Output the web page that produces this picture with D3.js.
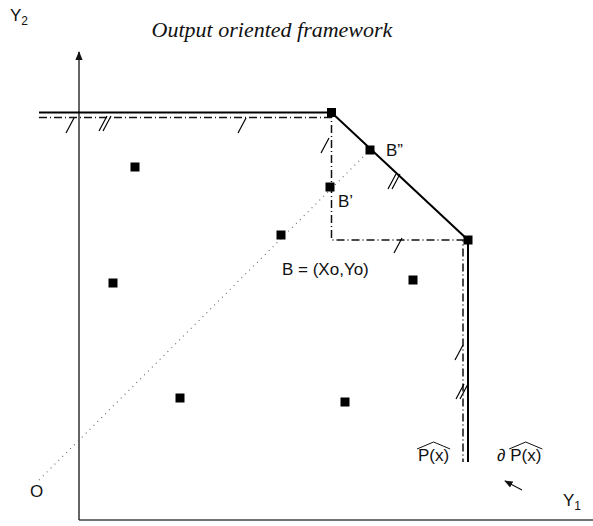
<!DOCTYPE html>
<html>
<head>
<meta charset="utf-8">
<script src="https://cdn.jsdelivr.net/npm/d3@7"></script>
<style>
  html, body { margin: 0; padding: 0; background: #fff; }
  svg { display: block; }
  .lbl { font-family: "Liberation Sans", Arial, sans-serif; font-size: 17px; fill: #111; }
</style>
</head>
<body>
<svg id="chart" width="593" height="526"></svg>
<script>
// Output set P(x): frontier (solid) and free-disposal hull (dash-dot)
const frontierSolid = [[-0.8, 8.15], [5.05, 8.15], [7.78, 5.6], [7.78, 1.16]];
const frontierHull  = [[-0.8, 8.05], [5.05, 8.05], [5.05, 5.6], [7.68, 5.6], [7.68, 1.16]];
const frontierVertices = [[5.05, 8.15], [7.78, 5.6]];

// Observed output vectors
const observations = [[1.12, 7.06], [0.68, 4.74], [2.02, 2.44], [6.68, 4.8], [5.32, 2.36]];
const pointB   = [4.04, 5.7];
const pointB1  = [5.02, 6.66];   // B'
const pointB2  = [5.82, 7.4];    // B''
const rayOrigin = [-0.8, 0.8];   // O

// Hatch marks on the boundary segments: [x, y, count]
const hatches = [[-0.18, 7.9, 1], [0.52, 7.94, 2], [3.26, 7.9, 1], [4.92, 7.5, 1],
                 [6.3, 6.78, 2], [6.38, 5.5, 1], [7.6, 3.36, 1], [7.66, 2.58, 2]];

// Text labels
const labels = [
  { t: "B\u201D", at: [6.14, 7.28] },
  { t: "B\u2019", at: [5.18, 6.26] },
  { t: "B = (Xo,Yo)", at: [4.06, 4.9] },
  { t: "O", at: [-0.98, 0.46] }
];

const svg = d3.select("#chart");
const x = d3.scaleLinear().domain([0, 10]).range([79, 579]);
const y = d3.scaleLinear().domain([0, 10]).range([520, 20]);
const line = d3.line().x(d => x(d[0])).y(d => y(d[1]));

// arrowhead
svg.append("defs").append("marker")
  .attr("id", "ah").attr("viewBox", "0 0 10 10").attr("refX", 9).attr("refY", 5)
  .attr("markerWidth", 7).attr("markerHeight", 7).attr("orient", "auto-start-reverse")
  .append("path").attr("d", "M0,1 L10,5 L0,9 Z").attr("fill", "#111");

// axes
svg.append("line").attr("x1", x(0)).attr("y1", y(0)).attr("x2", 593).attr("y2", y(0))
  .attr("stroke", "#444").attr("stroke-width", 1.6);
svg.append("line").attr("x1", x(0)).attr("y1", y(0)).attr("x2", x(0)).attr("y2", y(9.36))
  .attr("stroke", "#111").attr("stroke-width", 1.3).attr("marker-end", "url(#ah)");

// ray from O through B to B''
svg.append("path").attr("d", line([rayOrigin, pointB2]))
  .attr("fill", "none").attr("stroke", "#666").attr("stroke-width", 1.1)
  .attr("stroke-dasharray", "1,4.5");

// hull (dash-dot)
svg.append("path").attr("d", line(frontierHull))
  .attr("fill", "none").attr("stroke", "#111").attr("stroke-width", 1.5)
  .attr("stroke-dasharray", "8,3,1,3");

// frontier (solid)
svg.append("path").attr("d", line(frontierSolid))
  .attr("fill", "none").attr("stroke", "#000").attr("stroke-width", 2);

// hatch marks
hatches.forEach(([hx, hy, n]) => {
  for (let i = 0; i < n; i++) {
    const cx = x(hx) + i * 4 - (n - 1) * 2;
    const cy = y(hy);
    svg.append("line")
      .attr("x1", cx - 4).attr("y1", cy + 8).attr("x2", cx + 4).attr("y2", cy - 7)
      .attr("stroke", "#000").attr("stroke-width", 1.2);
  }
});

// points
const pts = [...observations, pointB, pointB1, pointB2, ...frontierVertices];
svg.selectAll("rect.pt").data(pts).join("rect").attr("class", "pt")
  .attr("x", d => x(d[0]) - 4.5).attr("y", d => y(d[1]) - 4.5)
  .attr("width", 9).attr("height", 9).attr("fill", "#000");

// labels
labels.forEach(l => {
  svg.append("text").attr("class", "lbl").attr("x", x(l.at[0])).attr("y", y(l.at[1])).text(l.t);
});

// title
svg.append("text").attr("x", 272).attr("y", 37).attr("text-anchor", "middle")
  .style("font-family", "'Liberation Serif', 'Times New Roman', serif")
  .style("font-style", "italic").style("font-size", "22px").attr("fill", "#111")
  .text("Output oriented framework");

// axis names with subscripts
function subLabel(px, py, main, sub) {
  const t = svg.append("text").attr("class", "lbl").attr("x", px).attr("y", py);
  t.append("tspan").text(main);
  t.append("tspan").attr("dy", 4).style("font-size", "12px").text(sub);
}
subLabel(10, 21, "Y", "2");
subLabel(x(9.68), y(0.28), "Y", "1");

// P(x) and ∂P(x) with wide hats
function hatLabel(px, py, prefix) {
  const t = svg.append("text").attr("class", "lbl").attr("x", px).attr("y", py);
  if (prefix) { t.append("tspan").text(prefix + " "); }
  const tp = t.append("tspan").text("P(x)");
  const bb = tp.node().getBBox();
  const x0 = bb.x, x1 = bb.x + bb.width, top = bb.y;
  svg.append("path")
    .attr("d", `M${x0 - 1},${top + 3} L${(x0 + x1) / 2},${top - 4} L${x1 + 1},${top + 3}`)
    .attr("fill", "none").attr("stroke", "#111").attr("stroke-width", 1);
}
hatLabel(x(6.78), y(1.18), null);
hatLabel(x(8.36), y(1.18), "\u2202");

// arrow pointing at the frontier label
svg.append("line").attr("x1", x(8.86)).attr("y1", y(0.6)).attr("x2", x(8.52)).attr("y2", y(0.78))
  .attr("stroke", "#111").attr("stroke-width", 1.2).attr("marker-end", "url(#ah)");
</script>
</body>
</html>
